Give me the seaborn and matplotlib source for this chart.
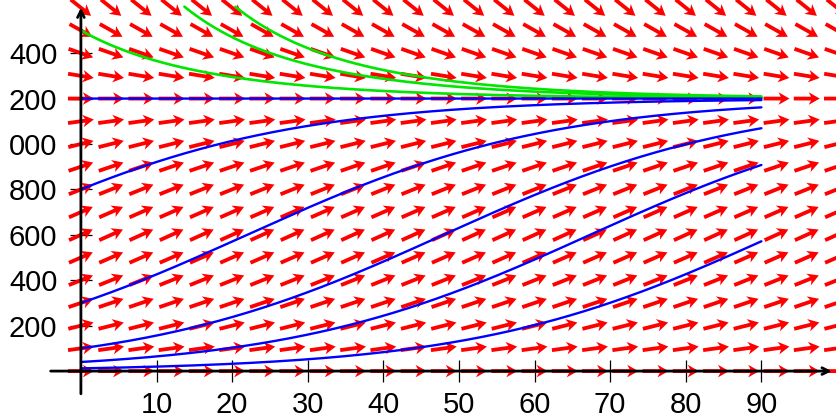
import numpy as np
import pandas as pd
import matplotlib
matplotlib.use("Agg")
import matplotlib.pyplot as plt
import seaborn as sns

# logistic model dP/dt = r*P*(1 - P/K)
r = 0.05
K = 1200

# direction field grid
t_grid = np.arange(0, 101, 4)
p_grid = np.arange(0, 1601, 100)

# solution curves (initial populations)
p0_below = [12, 40, 100, 300, 800, 1200]
p0_above = [1500, 2400, 4000]
t_end = 90

x_ticks = [10, 20, 30, 40, 50, 60, 70, 80, 90]
x_tick_labels = ["10", "20", "30", "40", "50", "60", "70", "80", "90"]
y_ticks = [200, 400, 600, 800, 1000, 1200, 1400]
y_tick_labels = ["200", "400", "600", "800", "000", "200", "400"]

sns.set_style("white")
plt.rcParams['font.family'] = ['Liberation Sans', 'DejaVu Sans']


def logistic(t, p0):
    A = (K - p0) / p0
    return K / (1 + A * np.exp(-r * t))


def curves_df(p0_list):
    t = np.linspace(0, t_end, 2000)
    rows = []
    for p0 in p0_list:
        p = logistic(t, p0)
        p = np.where(p > 1605, np.nan, p)
        rows.append(pd.DataFrame({"t": t, "P": p, "P0": p0}))
    return pd.concat(rows).dropna()


fig = plt.figure(figsize=(8.37, 4.19), dpi=100)
ax = fig.add_axes([0, 0, 1, 1])
xmin, xmax = -10.7, 100.0
ymin, ymax = -211, 1634
ax.set_xlim(xmin, xmax)
ax.set_ylim(ymin, ymax)

# slope field, arrows of equal screen length
sx = 837 / (xmax - xmin)
sy = 419 / (ymax - ymin)
T, P = np.meshgrid(t_grid, p_grid)
dP = r * P * (1 - P / K)
U = np.full_like(dP, sx, dtype=float)
V = dP * sy
norm = np.hypot(U, V)
ax.quiver(T, P, U / norm, V / norm, angles='uv', scale_units='dots', scale=1 / 26,
          units='dots', width=3.8, headwidth=3.3, headlength=2.9, headaxislength=2.3,
          pivot='middle', color='#ff0000', zorder=1)

sns.lineplot(data=curves_df(p0_above), x="t", y="P", units="P0", estimator=None,
             color='#00e600', lw=1.9, ax=ax, zorder=2)
sns.lineplot(data=curves_df(p0_below), x="t", y="P", units="P0", estimator=None,
             color='#0000ff', lw=1.7, ax=ax, zorder=3)

# axes through the origin
for s in ax.spines.values():
    s.set_visible(False)
ax.spines['left'].set_position(('data', 0))
ax.spines['bottom'].set_position(('data', 0))
arrow = dict(arrowstyle='->', lw=2, color='black', shrinkA=0, shrinkB=0,
             mutation_scale=12)
ax.annotate('', xy=(99.3, 0), xytext=(-4, 0), arrowprops=arrow, zorder=4)
ax.annotate('', xy=(0, 1600), xytext=(0, -100), arrowprops=arrow, zorder=4)

ax.set_xticks(x_ticks)
ax.set_xticklabels(x_tick_labels)
ax.set_yticks(y_ticks)
ax.set_yticklabels(y_tick_labels)
ax.tick_params(direction='inout', length=16, width=0.9, color='black',
               labelcolor='black', labelsize=21, pad=9, bottom=True, left=True)
ax.tick_params(axis='x', pad=6)
ax.set_xlabel("")
ax.set_ylabel("")

fig.savefig("out.png", dpi=100)
